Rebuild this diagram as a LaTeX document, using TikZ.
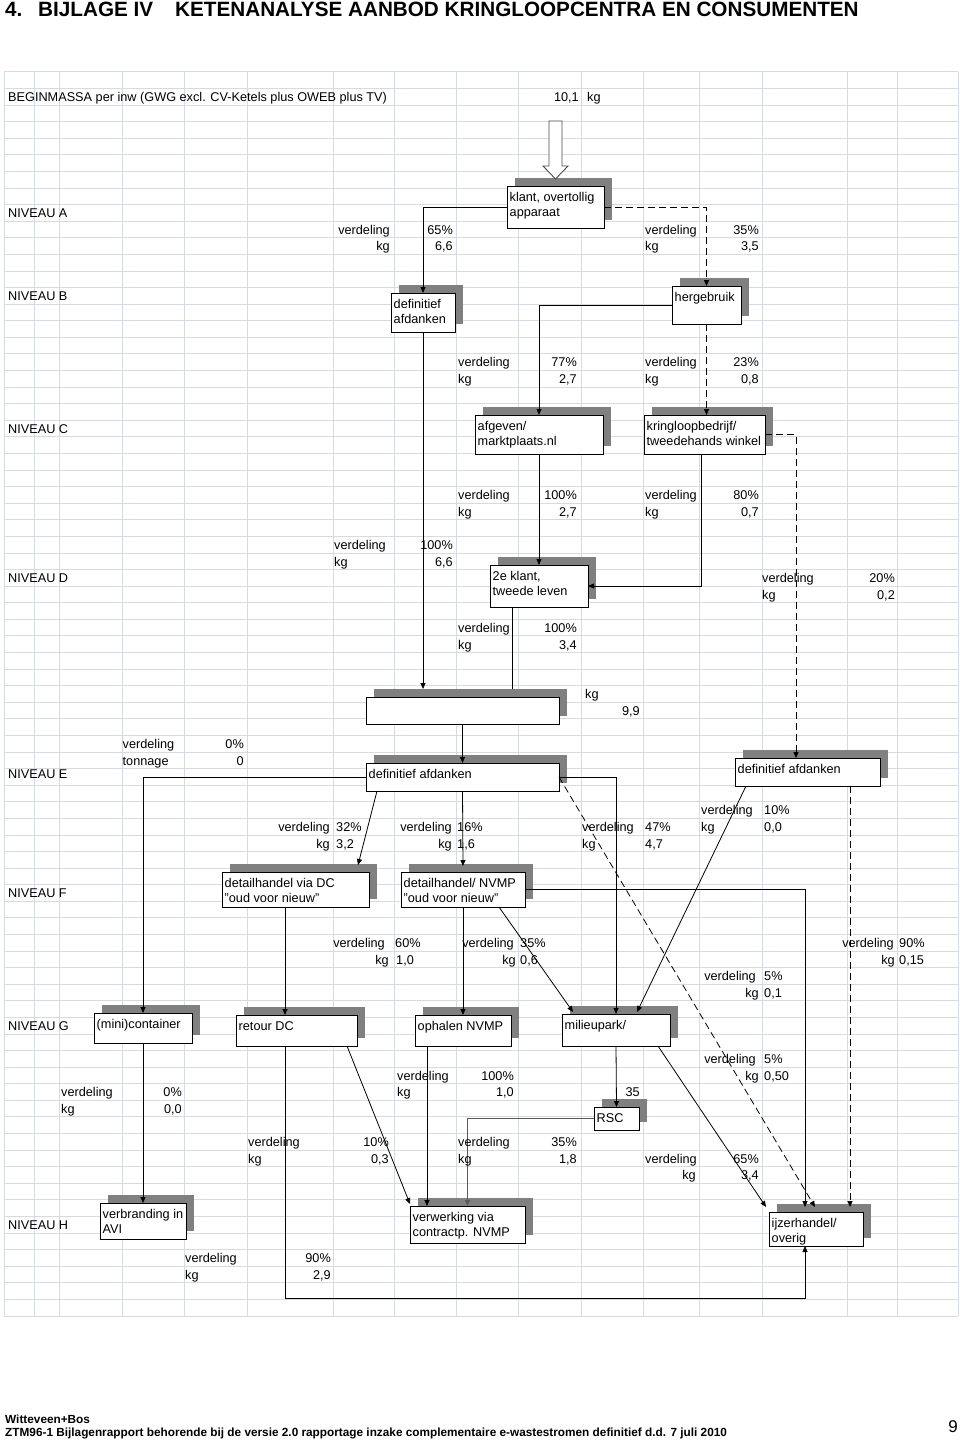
\documentclass[tikz,border=0pt]{standalone}
\usepackage{fontspec}
\setmainfont{Liberation Sans}
\usetikzlibrary{arrows.meta,calc}
\definecolor{gridc}{RGB}{214,218,226}
\definecolor{shadowc}{RGB}{128,128,128}
\tikzset{
  gridline/.style={draw=gridc, line width=1pt},
  box/.style={draw=black, fill=white, line width=0.9pt, inner sep=0pt, outer sep=0pt},
  boxtxt/.style={inner sep=0pt, align=left, font=\fontsize{12.7}{15}\selectfont},
  tl/.style={anchor=base west, inner sep=0pt, font=\fontsize{12.7}{15}\selectfont},
  tr/.style={anchor=base east, inner sep=0pt, font=\fontsize{12.7}{15}\selectfont},
  conn/.style={draw=black, line width=0.8pt, -{Triangle[length=6pt,width=5pt]}},
  plainc/.style={draw=black, line width=0.8pt},
  dashc/.style={conn, dash pattern=on 7pt off 4pt},
  ttl/.style={anchor=base west, inner sep=0pt, font=\bfseries\fontsize{20.7}{24}\selectfont},
  foot/.style={anchor=base west, inner sep=0pt, font=\bfseries\fontsize{11.8}{14}\selectfont},
}
\newcommand\bx[6]{%
  \fill[shadowc] (#2+8,#3-8) rectangle (#4+8,#5-8);
  \node[box, minimum width={#4-#2}, minimum height={#5-#3}, anchor=north west] (#1) at (#2,#3) {};
  \node[boxtxt, anchor=north west] (#1t) at ($(#1.north west)+(2.5,6)$) {#6};
}
\begin{document}
\begin{tikzpicture}[x=1pt,y=-1pt]
\useasboundingbox (0,0) rectangle (960,1442);
% grid
\foreach \x in {4,34,59,122,184,247,333,394,456,518,581,643,699,762,847,897,958}
  \draw[gridline] (\x,72) -- (\x,1316);
\foreach \k in {0,...,75}
  \draw[gridline] (4,{72+16.587*\k}) -- (958,{72+16.587*\k});
% title
\node[ttl] (title1) at (5,17) {4.};
\node[ttl] (title2) at (38,17) {BIJLAGE IV};
\node[ttl] (title3) at (175,17) {KETENANALYSE AANBOD KRINGLOOPCENTRA EN CONSUMENTEN};
% boxes
\bx{klant}{507}{186}{604}{228}{klant, overtollig\\apparaat}
\bx{defB}{391}{293}{455}{332}{definitief\\afdanken}
\bx{herg}{672}{286}{741}{324}{hergebruik}
\bx{afgeven}{475}{415}{603}{454}{afgeven/\\marktplaats.nl}
\bx{kring}{644}{415}{765}{454}{kringloopbedrijf/\\tweedehands winkel}
\bx{klant2}{490}{565}{588}{607}{2e klant,\\tweede leven}
\bx{empty}{366}{697}{559}{724}{}
\bx{defE}{366}{763}{559}{791}{definitief afdanken}
\bx{defE2}{735}{758}{880}{786}{definitief afdanken}
\bx{dhDC}{222}{872}{369}{907}{detailhandel via DC\\"oud voor nieuw"}
\bx{dhNVMP}{401}{872}{525}{907}{detailhandel/ NVMP\\"oud voor nieuw"}
\bx{mini}{94}{1013}{192}{1043}{(mini)container}
\bx{retour}{236}{1015}{357}{1046}{retour DC}
\bx{ophalen}{415}{1015}{511}{1046}{ophalen NVMP}
\bx{milieu}{562}{1014}{670}{1046}{milieupark/}
\bx{RSC}{594}{1107}{639}{1130}{RSC}
\bx{verbr}{100}{1203}{186}{1239}{verbranding in\\AVI}
\bx{verw}{410}{1206}{525}{1243}{verwerking via\\contractp. NVMP}
\bx{ijzer}{769}{1212}{863}{1246}{ijzerhandel/\\overig}
% big hollow input arrow
\draw[draw=black!70, fill=white, line width=0.9pt] (549,121) -- (562,121) -- (562,166) -- (568,166) -- (555.5,179) -- (543,166) -- (549,166) -- cycle;
% connectors
\draw[conn] (klant.west) -| (defB.north);
\draw[dashc] (klant.east) -| (herg.north);
\draw[conn] (herg.west) -| (afgeven.north);
\draw[dashc] (herg.south) -- (herg.south |- kring.north);
\coordinate (kE2) at ($(defE2.north west)+(61,0)$);
\draw[dashc] (kring.east) -| (kE2);
\draw[conn] (afgeven.south) -- (klant2.north);
\coordinate (kS) at ($(kring.south west)+(57,0)$);
\draw[conn] (kS) |- (klant2.east);
\coordinate (emptyTop) at ($(empty.north)+(0,-8)$);
\draw[conn] (defB.south) -- (defB.south |- emptyTop);
\coordinate (k2S) at ($(klant2.south west)+(22.5,0)$);
\draw[plainc] (k2S) -- (k2S |- emptyTop);
\draw[conn] (empty.south) -- (defE.north);
\draw[conn] (defE.west) -| (mini.north);
\coordinate (eSW) at ($(defE.south west)+(11,0)$);
\coordinate (dcN) at ($(dhDC.north east)+(-11,-7)$);
\draw[conn] (eSW) -- (dcN);
\coordinate (nvN) at ($(dhNVMP.north)+(0,-6)$);
\draw[conn] (defE.south) -- (nvN);
\draw[conn] (defE.east) -| (milieu.north);
\coordinate (ijzD) at ($(ijzer.north west)+(46,-5)$);
\draw[dashc] (defE.east) -- (ijzD);
\coordinate (e2SW) at ($(defE2.south west)+(11,0)$);
\coordinate (mNE) at ($(milieu.north east)+(-33,-2)$);
\draw[conn] (e2SW) -- (mNE);
\coordinate (e2S) at ($(defE2.south west)+(115,0)$);
\coordinate (ijzE) at ($(ijzer.north west)+(81,-5)$);
\draw[dashc] (e2S) -- (e2S |- ijzE);
\coordinate (dcS) at ($(dhDC.south west)+(63,0)$);
\draw[conn] (dcS) -- (dcS |- retour.north);
\draw[conn] (dhNVMP.south) -- (ophalen.north);
\coordinate (nvSE) at ($(dhNVMP.south east)+(-26,0)$);
\coordinate (mNW) at ($(milieu.north west)+(11,-2)$);
\draw[conn] (nvSE) -- (mNW);
\coordinate (ijzA) at ($(ijzer.north west)+(36,-5)$);
\draw[conn] (dhNVMP.east) -| (ijzA);
\coordinate (mSE) at ($(milieu.south east)+(-12,0)$);
\coordinate (ijzW) at ($(ijzer.north west)+(-3,-5)$);
\draw[conn] (mSE) -- (ijzW);
\draw[conn] (mini.south) -- (verbr.north);
\coordinate (rS) at ($(retour.south west)+(49,0)$);
\coordinate (loop) at ($(rS)+(0,252)$);
\coordinate (ijzB) at ($(ijzer.south west)+(36,0)$);
\draw[conn] (rS) -- (loop) -| (ijzB);
\coordinate (rSE) at ($(retour.south east)+(-10,0)$);
\coordinate (vNW) at ($(verw.north west)+(0,-2)$);
\draw[conn] (rSE) -- (vNW);
\coordinate (oS) at ($(ophalen.south west)+(12,0)$);
\draw[conn] (oS) -- (oS |- verw.north);
\draw[conn] (milieu.south) -- (RSC.north);
\draw[conn, draw=black!65, line width=1.8pt] (RSC.west) -| (verw.north);
% texts
\node[tl] (t1) at (8,101.5) {BEGINMASSA per inw (GWG excl. CV-Ketels plus OWEB plus TV)};
\node[tr] (t2) at (579,101.5) {10,1};
\node[tl] (t3) at (587,101.5) {kg};
\node[tl] (nA) at (8,217.6) {NIVEAU A};
\node[tr] (a1) at (390,234.2) {verdeling};
\node[tr] (a2) at (453,234.2) {65\%};
\node[tr] (a3) at (390,250.8) {kg};
\node[tr] (a4) at (453,250.8) {6,6};
\node[tl] (a5) at (645,234.2) {verdeling};
\node[tr] (a6) at (759,234.2) {35\%};
\node[tl] (a7) at (645,250.8) {kg};
\node[tr] (a8) at (759,250.8) {3,5};
\node[tl] (nB) at (8,300.6) {NIVEAU B};
\node[tl] (b1) at (458,366.9) {verdeling};
\node[tr] (b2) at (577,366.9) {77\%};
\node[tl] (b3) at (458,383.5) {kg};
\node[tr] (b4) at (577,383.5) {2,7};
\node[tl] (b5) at (645,366.9) {verdeling};
\node[tr] (b6) at (759,366.9) {23\%};
\node[tl] (b7) at (645,383.5) {kg};
\node[tr] (b8) at (759,383.5) {0,8};
\node[tl] (nC) at (8,433.3) {NIVEAU C};
\node[tl] (c1) at (458,499.7) {verdeling};
\node[tr] (c2) at (577,499.7) {100\%};
\node[tl] (c3) at (458,516.2) {kg};
\node[tr] (c4) at (577,516.2) {2,7};
\node[tl] (c5) at (645,499.7) {verdeling};
\node[tr] (c6) at (759,499.7) {80\%};
\node[tl] (c7) at (645,516.2) {kg};
\node[tr] (c8) at (759,516.2) {0,7};
\node[tl] (c9) at (334,549.4) {verdeling};
\node[tr] (c10) at (453,549.4) {100\%};
\node[tl] (c11) at (334,566.0) {kg};
\node[tr] (c12) at (453,566.0) {6,6};
\node[tl] (nD) at (8,582.6) {NIVEAU D};
\node[tl] (d1) at (762,582.6) {verdeling};
\node[tr] (d2) at (895,582.6) {20\%};
\node[tl] (d3) at (762,599.2) {kg};
\node[tr] (d4) at (895,599.2) {0,2};
\node[tl] (d5) at (458,632.4) {verdeling};
\node[tr] (d6) at (577,632.4) {100\%};
\node[tl] (d7) at (458,649.0) {kg};
\node[tr] (d8) at (577,649.0) {3,4};
\node[tl] (d9) at (585,698.7) {kg};
\node[tr] (d10) at (640,715.3) {9,9};
\node[tl] (e1) at (122.5,748.5) {verdeling};
\node[tr] (e2) at (244,748.5) {0\%};
\node[tl] (e3) at (122.5,765.1) {tonnage};
\node[tr] (e4) at (244,765.1) {0};
\node[tl] (nE) at (8,778) {NIVEAU E};
\node[tl] (e5) at (701,814.9) {verdeling};
\node[tl] (e6) at (764,814.9) {10\%};
\node[tl] (e7) at (701,831.5) {kg};
\node[tl] (e8) at (764,831.5) {0,0};
\node[tr] (e9) at (330,831.5) {verdeling};
\node[tl] (e10) at (336,831.5) {32\%};
\node[tr] (e11) at (330,848.0) {kg};
\node[tl] (e12) at (336,848.0) {3,2};
\node[tr] (e13) at (452,831.5) {verdeling};
\node[tl] (e14) at (457,831.5) {16\%};
\node[tr] (e15) at (452,848.0) {kg};
\node[tl] (e16) at (457,848.0) {1,6};
\node[tl] (e17) at (582,831.5) {verdeling};
\node[tl] (e18) at (645,831.5) {47\%};
\node[tl] (e19) at (582,848.0) {kg};
\node[tl] (e20) at (645,848.0) {4,7};
\node[tl] (nF) at (8,897.8) {NIVEAU F};
\node[tr] (f1) at (385,947.6) {verdeling};
\node[tl] (f2) at (395,947.6) {60\%};
\node[tr] (f3) at (389,964.2) {kg};
\node[tl] (f4) at (396,964.2) {1,0};
\node[tr] (f5) at (514,947.6) {verdeling};
\node[tl] (f6) at (520,947.6) {35\%};
\node[tr] (f7) at (516,964.2) {kg};
\node[tl] (f8) at (520,964.2) {0,6};
\node[tr] (f9) at (894,947.6) {verdeling};
\node[tl] (f10) at (899,947.6) {90\%};
\node[tr] (f11) at (895,964.2) {kg};
\node[tl] (f12) at (899,964.2) {0,15};
\node[tr] (f13) at (756,980.8) {verdeling};
\node[tl] (f14) at (764,980.8) {5\%};
\node[tr] (f15) at (759,997.3) {kg};
\node[tl] (f16) at (764,997.3) {0,1};
\node[tl] (nG) at (8,1030.5) {NIVEAU G};
\node[tr] (g1) at (756,1063.7) {verdeling};
\node[tl] (g2) at (764,1063.7) {5\%};
\node[tr] (g3) at (759,1080.3) {kg};
\node[tl] (g4) at (764,1080.3) {0,50};
\node[tl] (g5) at (397,1080.3) {verdeling};
\node[tr] (g6) at (514,1080.3) {100\%};
\node[tl] (g7) at (397,1096.9) {kg};
\node[tr] (g8) at (514,1096.9) {1,0};
\node[tr] (g9) at (640,1096.9) {35};
\node[tl] (g10) at (61,1096.9) {verdeling};
\node[tr] (g11) at (182,1096.9) {0\%};
\node[tl] (g12) at (61,1113.5) {kg};
\node[tr] (g13) at (182,1113.5) {0,0};
\node[tl] (g14) at (248,1146.7) {verdeling};
\node[tr] (g15) at (389,1146.7) {10\%};
\node[tl] (g16) at (248,1163.3) {kg};
\node[tr] (g17) at (389,1163.3) {0,3};
\node[tl] (g18) at (458,1146.7) {verdeling};
\node[tr] (g19) at (577,1146.7) {35\%};
\node[tl] (g20) at (458,1163.3) {kg};
\node[tr] (g21) at (577,1163.3) {1,8};
\node[tl] (g22) at (645,1163.3) {verdeling};
\node[tr] (g23) at (759,1163.3) {65\%};
\node[tr] (g24) at (696,1179.8) {kg};
\node[tr] (g25) at (759,1179.8) {3,4};
\node[tl] (nH) at (8,1229.6) {NIVEAU H};
\node[tl] (h1) at (185,1262.8) {verdeling};
\node[tr] (h2) at (331,1262.8) {90\%};
\node[tl] (h3) at (185,1279.4) {kg};
\node[tr] (h4) at (331,1279.4) {2,9};
% footer
\node[foot] (foot1) at (5,1423) {Witteveen+Bos};
\node[foot] (foot2) at (5,1436) {ZTM96-1 Bijlagenrapport behorende bij de versie 2.0 rapportage inzake complementaire e-wastestromen definitief d.d. 7 juli 2010};
\node[anchor=base east, inner sep=0pt, font=\fontsize{17}{20}\selectfont] (page) at (958,1432) {9};
\end{tikzpicture}
\end{document}
